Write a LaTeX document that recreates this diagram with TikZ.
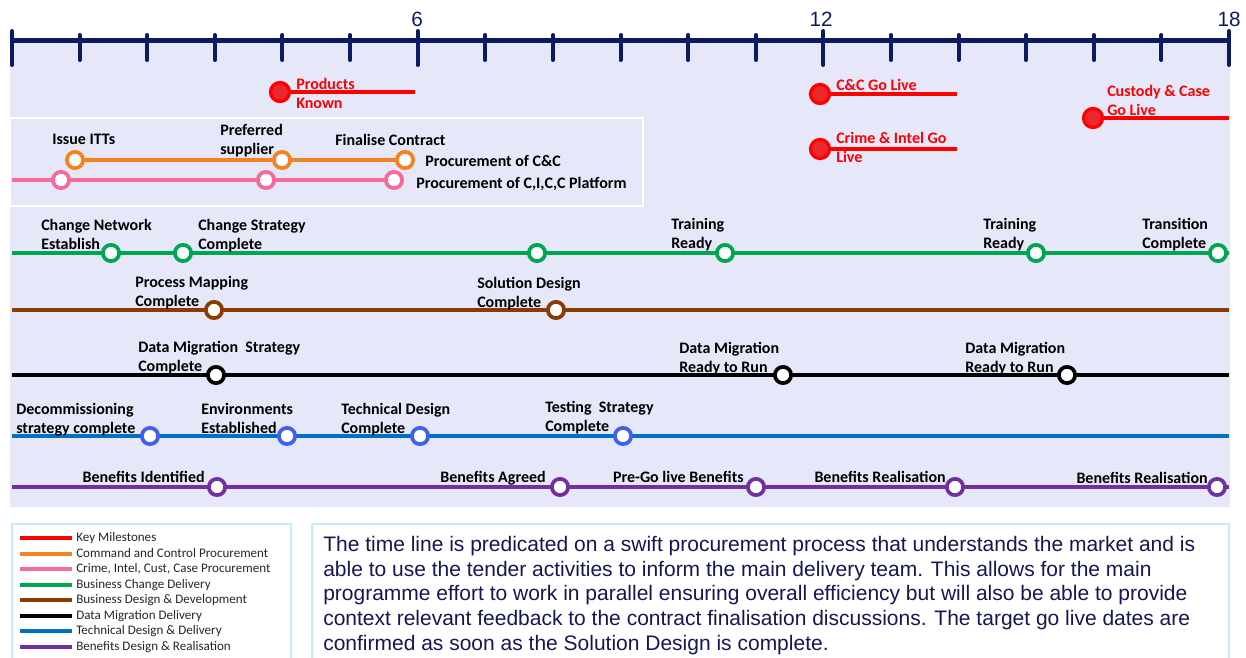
\documentclass[tikz,border=0pt]{standalone}
\usepackage{fontspec}
\setmainfont{Carlito}
\newfontfamily\arialfont{Liberation Sans}
\definecolor{bgl}{RGB}{230,232,250}
\definecolor{navy}{RGB}{12,26,100}
\definecolor{kred}{RGB}{255,0,0}
\definecolor{kfill}{RGB}{236,40,44}
\definecolor{orng}{RGB}{245,130,32}
\definecolor{pnk}{RGB}{246,105,154}
\definecolor{grn}{RGB}{0,166,80}
\definecolor{brn}{RGB}{140,59,0}
\definecolor{tblue}{RGB}{0,112,192}
\definecolor{cblue}{RGB}{64,94,240}
\definecolor{purp}{RGB}{112,48,160}
\definecolor{cyanb}{RGB}{197,236,249}
\definecolor{bodytext}{RGB}{22,22,84}
\definecolor{legtext}{RGB}{38,38,38}
\begin{document}
\begin{tikzpicture}[x=0.75pt,y=-0.75pt,
  lbl/.style={font=\bfseries\fontsize{12}{14.25}\selectfont, inner sep=0pt, align=left, anchor=base west, text=black},
  rlbl/.style={lbl, text=kred},
  ms/.style={circle, draw=#1, fill=white, line width=2.8pt, minimum size=12.2pt, inner sep=0pt},
  kms/.style={circle, draw=kred, fill=kfill, line width=2.4pt, minimum size=14.3pt, inner sep=0pt},
  track/.style={draw=#1, line width=3pt},
  legline/.style={draw=#1, line width=3pt},
  legtxt/.style={font=\fontsize{9.8}{11.6}\selectfont, text=legtext, inner sep=0pt, anchor=base west},
  axnum/.style={font=\arialfont\fontsize{15.5}{18}\selectfont, text=navy, inner sep=0pt},
]
\useasboundingbox (0,0) rectangle (1246,657);
% background
\fill[bgl] (10,40) rectangle (1230,507);
% axis
\draw[navy, line width=3.75pt] (12,40) -- (1229,40);
\foreach \i in {0,...,18}{
  \pgfmathsetmacro{\xx}{12+\i*67.6111}
  \pgfmathtruncatemacro{\mj}{mod(\i,6)==0 ? 1 : 0}
  \ifnum\mj=1
    \draw[navy, line width=3pt, line cap=round] (\xx,31) -- (\xx,65);
  \else
    \draw[navy, line width=3pt, line cap=round] (\xx,35) -- (\xx,60);
  \fi
}
\node[axnum] (n6) at (417,19) {6};
\node[axnum] (n12) at (821,19) {12};
\node[axnum] (n18) at (1229,19) {18};

% key milestones
\coordinate (pkE) at (415,92);
\coordinate (ccE) at (957,94);
\coordinate (ciE) at (957,149);
\coordinate (cuE) at (1229,118);
\node[kms] (pk) at (280,92) {};
\node[kms] (cc) at (820,94) {};
\node[kms] (ci) at (820,149) {};
\node[kms] (cu) at (1093,118) {};
\draw[kred, line width=3pt] (pk) -- (pkE);
\draw[kred, line width=3pt] (cc) -- (ccE);
\draw[kred, line width=3pt] (ci) -- (ciE);
\draw[kred, line width=3pt] (cu) -- (cuE);
\node[rlbl] (tpk) at (296,108) {Products\\Known};
\node[rlbl] (tcc) at (836,90) {C\&C Go Live};
\node[rlbl] (tci) at (836,162) {Crime \& Intel Go\\Live};
\node[rlbl] (tcu) at (1107,115) {Custody \& Case\\Go Live};

% procurement box
\draw[white, line width=1.5pt] (10,118) rectangle (643,206);
\coordinate (oL) at (75,160); \coordinate (oR) at (405,160);
\coordinate (pL) at (12,180); \coordinate (pR) at (394,180);
\draw[track=orng] (oL) -- (oR);
\draw[track=pnk] (pL) -- (pR);
\node[ms=orng] (o1) at (75,160) {};
\node[ms=orng] (o2) at (282,160) {};
\node[ms=orng] (o3) at (405,160) {};
\node[ms=pnk] (p1) at (61,180) {};
\node[ms=pnk] (p2) at (266,180) {};
\node[ms=pnk] (p3) at (394,180) {};
\node[lbl] (tissue) at (52,144) {Issue ITTs};
\node[lbl] (tpref) at (220,154) {Preferred\\supplier};
\node[lbl] (tfin) at (335,145) {Finalise Contract};
\node[lbl] (tpcc) at (425,166) {Procurement of C\&C};
\node[lbl] (tpci) at (416,188) {Procurement of C,I,C,C Platform};

% green track
\coordinate (gL) at (12,253); \coordinate (gR) at (1229,253);
\draw[track=grn] (gL) -- (gR);
\foreach \n/\x in {g1/111,g2/183,g3/537,g4/725,g5/1036,g6/1218}
  \node[ms=grn] (\n) at (\x,253) {};
\node[lbl] (tg1) at (41,249) {Change Network\\Establish};
\node[lbl] (tg2) at (198,249) {Change Strategy\\Complete};
\node[lbl] (tg4) at (671,248) {Training\\Ready};
\node[lbl] (tg5) at (983,248) {Training\\Ready};
\node[lbl] (tg6) at (1142,248) {Transition\\Complete};

% brown track
\coordinate (bL) at (12,310); \coordinate (bR) at (1229,310);
\draw[track=brn] (bL) -- (bR);
\node[ms=brn] (b1) at (214,310) {};
\node[ms=brn] (b2) at (556,310) {};
\node[lbl] (tb1) at (135,306) {Process Mapping\\Complete};
\node[lbl] (tb2) at (477,307) {Solution Design\\Complete};

% black track
\coordinate (kL) at (12,375); \coordinate (kR) at (1229,375);
\draw[track=black] (kL) -- (kR);
\node[ms=black] (k1) at (216,375) {};
\node[ms=black] (k2) at (783,375) {};
\node[ms=black] (k3) at (1067,375) {};
\node[lbl] (tk1) at (138,371) {Data Migration\ \ Strategy\\Complete};
\node[lbl] (tk2) at (679,372) {Data Migration\\Ready to Run};
\node[lbl] (tk3) at (965,372) {Data Migration\\Ready to Run};

% blue track
\coordinate (uL) at (12,436); \coordinate (uR) at (1229,436);
\draw[track=tblue] (uL) -- (uR);
\node[ms=cblue] (u1) at (150,436) {};
\node[ms=cblue] (u2) at (287,436) {};
\node[ms=cblue] (u3) at (420,436) {};
\node[ms=cblue] (u4) at (623,436) {};
\node[lbl] (tu1) at (16,433) {Decommissioning\\strategy complete};
\node[lbl] (tu2) at (201,433) {Environments\\Established};
\node[lbl] (tu3) at (341,433) {Technical Design\\Complete};
\node[lbl] (tu4) at (545,431) {Testing\ \ Strategy\\Complete};

% purple track
\coordinate (vL) at (12,487); \coordinate (vR) at (1229,487);
\draw[track=purp] (vL) -- (vR);
\node[ms=purp] (v1) at (217,487) {};
\node[ms=purp] (v2) at (560,487) {};
\node[ms=purp] (v3) at (756,487) {};
\node[ms=purp] (v4) at (955,487) {};
\node[ms=purp] (v5) at (1217,487) {};
\node[lbl, anchor=base east] (tv1) at (205,482) {Benefits Identified};
\node[lbl, anchor=base east] (tv2) at (546,482) {Benefits Agreed};
\node[lbl, anchor=base east] (tv3) at (744,482) {Pre-Go live Benefits};
\node[lbl, anchor=base east] (tv4) at (946,482) {Benefits Realisation};
\node[lbl, anchor=base east] (tv5) at (1208,483) {Benefits Realisation};

% legend
\draw[cyanb, line width=1.5pt] (12,524) rectangle (291,680);
\foreach \n/\c/\y/\t in {l1/kred/538/Key Milestones,
  l2/orng/554/Command and Control Procurement,
  l3/pnk/569/{Crime, Intel, Cust, Case Procurement},
  l4/grn/585/Business Change Delivery,
  l5/brn/600/Business Design \& Development,
  l6/black/616/Data Migration Delivery,
  l7/tblue/631/Technical Design \& Delivery,
  l8/purp/647/Benefits Design \& Realisation}{
  \coordinate (\n a) at (20,\y);
  \coordinate (\n b) at (72,\y);
  \draw[legline=\c] (\n a) -- (\n b);
  \node[legtxt] (\n t) at (76,\y+3.5) {\t};
}

% text box
\draw[cyanb, line width=1.5pt] (312,524) rectangle (1229,680);
\node[font=\arialfont\fontsize{15.75}{18.4}\selectfont, text=bodytext, align=left, anchor=base west, inner sep=0pt] (body) at (323,650)
{The time line is predicated on a swift procurement process that understands the market and is\\
able to use the tender activities to inform the main delivery team. This allows for the main\\
programme effort to work in parallel ensuring overall efficiency but will also be able to provide\\
context relevant feedback to the contract finalisation discussions. The target go live dates are\\
confirmed as soon as the Solution Design is complete.};
\end{tikzpicture}
\end{document}
